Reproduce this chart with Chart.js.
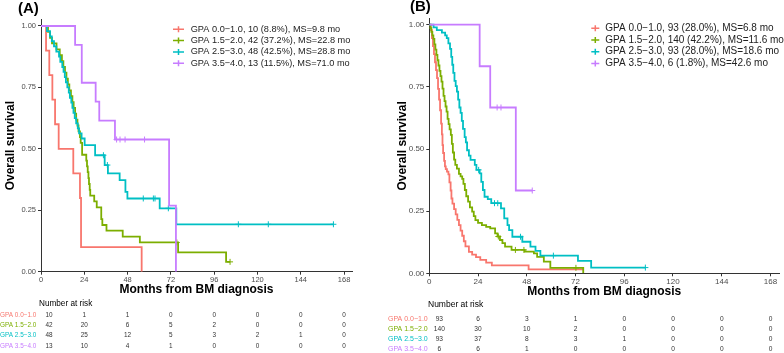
<!DOCTYPE html>
<html>
<head>
<meta charset="utf-8">
<script src="https://cdn.jsdelivr.net/npm/chart.js@4.4.1/dist/chart.umd.min.js"></script>
<style>
  html, body { margin: 0; padding: 0; background: #fff; }
  #wrap { position: relative; width: 784px; height: 353px; overflow: hidden; }
  canvas { position: absolute; top: 0; }
  #cA { left: 0; }
  #cB { left: 380px; }
</style>
</head>
<body>
<div id="wrap">
  <canvas id="cA" width="392" height="353"></canvas>
  <canvas id="cB" width="404" height="353"></canvas>
</div>
<script>
// groups and axes
const groups = ['GPA 0.0\u22121.0', 'GPA 1.5\u22122.0', 'GPA 2.5\u22123.0', 'GPA 3.5\u22124.0'];
const xTicks = [0, 24, 48, 72, 96, 120, 144, 168];
const yTicks = [0, 0.25, 0.5, 0.75, 1];

// panel A
const legendA = [
  'GPA 0.0\u22121.0, 10 (8.8%), MS=9.8 mo',
  'GPA 1.5\u22122.0, 42 (37.2%), MS=22.8 mo',
  'GPA 2.5\u22123.0, 48 (42.5%), MS=28.8 mo',
  'GPA 3.5\u22124.0, 13 (11.5%), MS=71.0 mo'
];
const riskA1 = [10, 1, 1, 0, 0, 0, 0, 0];
const riskA2 = [42, 20, 6, 5, 2, 0, 0, 0];
const riskA3 = [48, 25, 12, 5, 3, 2, 1, 0];
const riskA4 = [13, 10, 4, 1, 0, 0, 0, 0];

const timeA1 = [2.8, 4.6, 6.3, 7.8, 9.8, 17.9, 21.6, 22.2, 55.8];
const survA1 = [0.9, 0.8, 0.7, 0.6, 0.5, 0.4, 0.3, 0.1, 0];
const censA1 = [];

const timeA2 = [3.9, 5.0, 6.1, 8.6, 10.4, 11.6, 12.4, 13.3, 14.1, 14.9, 15.7, 16.6, 17.4, 18.1, 18.9, 19.5, 20.2, 20.8, 21.6, 22.0,
                22.8, 25.1, 25.5, 25.9, 26.3, 26.6, 27.0, 27.3, 29.5, 30.9, 33.4, 34.0, 36.3, 45.3, 54.8, 76.0, 102.6, 104.8];
const survA2 = [0.976, 0.952, 0.929, 0.905, 0.881, 0.857, 0.833, 0.810, 0.786, 0.762, 0.738, 0.714, 0.690, 0.667, 0.643, 0.619, 0.595, 0.571, 0.548, 0.524,
                0.476, 0.452, 0.429, 0.405, 0.381, 0.357, 0.333, 0.310, 0.286, 0.262, 0.214, 0.190, 0.167, 0.143, 0.119, 0.079, 0.040, 0.040];
const censA2 = [75.3, 104.8];

const timeA3 = [3.3, 5.0, 6.0, 7.2, 8.5, 10.0, 10.7, 11.8, 12.5, 13.2, 13.8, 14.6, 15.4, 16.0, 16.8, 17.4, 18.0, 18.7, 19.5, 20.4,
                21.1, 22.5, 24.2, 30.0, 35.3, 37.1, 43.6, 46.8, 47.9, 65.8, 75.0, 162.1];
const survA3 = [0.979, 0.958, 0.938, 0.917, 0.896, 0.875, 0.854, 0.833, 0.813, 0.792, 0.771, 0.750, 0.729, 0.708, 0.688, 0.667, 0.646, 0.625, 0.604, 0.583,
                0.563, 0.542, 0.515, 0.474, 0.434, 0.400, 0.373, 0.325, 0.298, 0.258, 0.193, 0.193];
const censA3 = [34.6, 36.8, 56.7, 62.3, 63.2, 70.6, 109.4, 126.0, 162.1];

const timeA4 = [18.9, 22.6, 30.3, 32.3, 41.0, 71.0, 74.8];
const survA4 = [0.923, 0.769, 0.692, 0.615, 0.538, 0.269, 0];
const censA4 = [41.9, 43.8, 46.6, 57.4];

// panel B
const legendB = [
  'GPA 0.0\u22121.0, 93 (28.0%), MS=6.8 mo',
  'GPA 1.5\u22122.0, 140 (42.2%), MS=11.6 mo',
  'GPA 2.5\u22123.0, 93 (28.0%), MS=18.6 mo',
  'GPA 3.5\u22124.0, 6 (1.8%), MS=42.6 mo'
];
const riskB1 = [93, 6, 3, 1, 0, 0, 0, 0];
const riskB2 = [140, 30, 10, 2, 0, 0, 0, 0];
const riskB3 = [93, 37, 8, 3, 1, 0, 0, 0];
const riskB4 = [6, 6, 1, 0, 0, 0, 0, 0];

const timeB1 = [0.8, 1.3, 1.8, 2.3, 2.8, 3.3, 3.8, 4.3, 4.8, 5.3, 5.8, 6.2, 6.5, 6.8, 7.3, 7.7, 8.1, 8.7, 9.4, 9.9,
                10.5, 10.9, 11.4, 12.2, 13.0, 13.8, 14.6, 15.4, 16.2, 17.0, 17.8, 19.5, 21.1, 23.0, 25.1, 28.0, 30.8, 48.9, 75.8];
const survB1 = [0.978, 0.946, 0.914, 0.882, 0.849, 0.817, 0.785, 0.742, 0.699, 0.656, 0.602, 0.559, 0.516, 0.484, 0.452, 0.430, 0.419, 0.409, 0.398, 0.366,
                0.333, 0.301, 0.280, 0.258, 0.237, 0.215, 0.194, 0.172, 0.151, 0.129, 0.108, 0.086, 0.075, 0.065, 0.054, 0.043, 0.032, 0.016, 0.016];
const censB1 = [];

const timeB2 = [0.5, 1.0, 1.5, 2.0, 2.5, 3.0, 3.5, 4.0, 4.5, 5.0, 5.5, 6.0, 6.5, 7.0, 7.5, 8.0, 8.5, 9.0, 9.5, 10.0,
                10.6, 11.1, 11.6, 12.2, 12.8, 13.6, 14.6, 15.4, 16.2, 16.8, 17.5, 18.2, 19.1, 20.0, 21.1, 21.9, 22.7, 24.0, 25.9, 28.0,
                30.0, 32.4, 33.6, 34.8, 36.0, 37.3, 40.5, 47.0, 51.5, 53.1, 56.4, 59.6, 75.8];
const survB2 = [0.986, 0.971, 0.957, 0.943, 0.921, 0.900, 0.879, 0.857, 0.836, 0.814, 0.793, 0.771, 0.743, 0.714, 0.693, 0.671, 0.650, 0.621, 0.600, 0.579,
                0.557, 0.521, 0.486, 0.457, 0.436, 0.421, 0.400, 0.390, 0.380, 0.360, 0.335, 0.310, 0.288, 0.265, 0.248, 0.230, 0.214, 0.203, 0.194, 0.187,
                0.181, 0.161, 0.148, 0.134, 0.121, 0.107, 0.094, 0.087, 0.080, 0.066, 0.047, 0.022, 0];
const censB2 = [34.0, 42.4, 46.6, 72.2];

const timeB3 = [2.1, 3.7, 6.2, 7.8, 8.6, 9.4, 10.2, 10.8, 11.3, 11.8, 12.4, 13.0, 13.6, 14.2, 14.8, 15.4, 16.0, 16.6, 17.4, 18.0,
                18.6, 19.5, 20.3, 22.4, 23.2, 24.8, 25.6, 26.4, 27.2, 28.8, 30.5, 35.3, 36.9, 38.5, 39.3, 40.9, 45.8, 49.8, 52.3, 54.7,
                73.2, 79.7, 106.4];
const survB3 = [0.989, 0.978, 0.968, 0.957, 0.946, 0.925, 0.903, 0.871, 0.839, 0.806, 0.774, 0.753, 0.731, 0.699, 0.667, 0.645, 0.613, 0.581, 0.548, 0.527,
                0.495, 0.473, 0.456, 0.436, 0.416, 0.402, 0.368, 0.335, 0.308, 0.298, 0.282, 0.261, 0.221, 0.194, 0.174, 0.147, 0.127, 0.107, 0.090, 0.071,
                0.050, 0.023, 0.023];
const censB3 = [24.3, 32.1, 33.7, 44.9, 61.1, 106.4];

const timeB4 = [24.8, 30.0, 42.6, 50.7];
const survB4 = [0.833, 0.667, 0.333, 0.333];
const censB4 = [33.4, 35.3, 50.7];

// look
const colors = ['#F8766D', '#7CAE00', '#00BFC4', '#C77CFF'];
const FONT = '"Liberation Sans", Arial, Helvetica, sans-serif';

// survival value at time t (right-continuous step)
function survAt(times, survs, t) {
  let s = 1;
  for (let i = 0; i < times.length; i++) {
    if (times[i] <= t) s = survs[i];
  }
  return s;
}

function makePanel(p) {
  const datasets = [];
  p.series.forEach((s, i) => {
    const pts = [{ x: 0, y: 1 }].concat(s.t.map((t, k) => ({ x: t, y: s.s[k] })));
    datasets.push({
      data: pts,
      borderColor: colors[i],
      borderWidth: p.lw,
      pointRadius: 0,
      stepped: 'before',
      fill: false,
      order: 10 - i * 2
    });
    datasets.push({
      data: s.c.map(t => ({ x: t, y: survAt(s.t, s.s, t) })),
      showLine: false,
      pointStyle: 'cross',
      pointRadius: 3,
      pointBorderWidth: 1,
      borderColor: colors[i],
      order: 9 - i * 2
    });
  });

  // tag, legend and risk table
  const extras = {
    id: 'extras',
    afterDraw(chart) {
      const ctx = chart.ctx;
      const xs = chart.scales.x;
      ctx.save();
      // tag
      ctx.fillStyle = '#000';
      ctx.font = 'bold ' + p.tag.size + 'px ' + FONT;
      ctx.textAlign = 'left';
      ctx.textBaseline = 'middle';
      ctx.fillText(p.tag.text, p.tag.x, p.tag.y);

      // legend
      ctx.font = p.leg.size + 'px ' + FONT;
      p.legend.forEach((txt, i) => {
        const y = p.leg.y0 + i * p.leg.dy;
        ctx.strokeStyle = colors[i];
        ctx.lineWidth = 1.5;
        ctx.beginPath();
        ctx.moveTo(p.leg.x0, y);
        ctx.lineTo(p.leg.x1, y);
        const cx = (p.leg.x0 + p.leg.x1) / 2;
        ctx.moveTo(cx, y - 3);
        ctx.lineTo(cx, y + 3);
        ctx.stroke();
        ctx.fillStyle = '#222';
        ctx.fillText(txt, p.leg.tx, y);
      });

      // risk table
      ctx.fillStyle = '#000';
      ctx.font = p.risk.titleSize + 'px ' + FONT;
      ctx.fillText('Number at risk', p.risk.titleX, p.risk.titleY);
      p.risk.rows.forEach((row, i) => {
        const y = p.risk.y0 + i * p.risk.dy;
        ctx.textAlign = 'left';
        ctx.fillStyle = colors[i];
        ctx.font = p.risk.labelSize + 'px ' + FONT;
        ctx.fillText(groups[i], p.risk.labelX, y);
        ctx.textAlign = 'center';
        ctx.fillStyle = '#333';
        ctx.font = p.risk.numSize + 'px ' + FONT;
        row.forEach((n, j) => {
          let x = xs.getPixelForValue(xTicks[j]);
          if (j === 0) x += p.risk.firstOff;
          ctx.fillText(String(n), x, y);
        });
      });
      ctx.restore();
    }
  };

  const tickFont = { family: FONT, size: p.tickSize };
  const titleFont = { family: FONT, size: 12, weight: 'bold' };

  return new Chart(document.getElementById(p.canvas), {
    type: 'line',
    data: { datasets },
    options: {
      responsive: false,
      animation: false,
      devicePixelRatio: 1,
      layout: { padding: p.pad },
      plugins: { legend: { display: false }, tooltip: { enabled: false } },
      scales: {
        x: {
          type: 'linear',
          min: 0,
          max: p.xMax,
          afterBuildTicks: sc => { sc.ticks = xTicks.map(v => ({ value: v })); },
          afterFit: sc => { sc.height = 30; },
          ticks: { autoSkip: false, maxRotation: 0, color: '#4d4d4d', font: tickFont, padding: 1, callback: v => String(v) },
          grid: { drawOnChartArea: false, drawTicks: true, tickLength: 3, color: '#333' },
          border: { display: true, color: '#333', width: 1 },
          title: { display: true, text: 'Months from BM diagnosis', color: '#000', font: titleFont, padding: { top: 0, bottom: p.xTitlePad } }
        },
        y: {
          type: 'linear',
          min: 0,
          max: p.yMax,
          afterBuildTicks: sc => { sc.ticks = yTicks.map(v => ({ value: v })); },
          afterFit: sc => { sc.width = p.yWidth; },
          ticks: { color: '#4d4d4d', font: tickFont, padding: 2, callback: v => Number(v).toFixed(2) },
          grid: { drawOnChartArea: false, drawTicks: true, tickLength: 3, color: '#333' },
          border: { display: true, color: '#333', width: 1 },
          title: { display: true, text: 'Overall survival', color: '#000', font: titleFont, padding: { top: 3, bottom: 0 } }
        }
      }
    },
    plugins: [extras]
  });
}

makePanel({
  canvas: 'cA',
  xMax: 172.4,
  yMax: 1.026,
  yWidth: 41,
  pad: { left: 0, right: 40, top: 19.6, bottom: 51.3 },
  tickSize: 7.5,
  xTitlePad: 5,
  lw: 1.8,
  series: [
    { t: timeA1, s: survA1, c: censA1 },
    { t: timeA2, s: survA2, c: censA2 },
    { t: timeA3, s: survA3, c: censA3 },
    { t: timeA4, s: survA4, c: censA4 }
  ],
  legend: legendA,
  tag: { text: '(A)', x: 18, y: 9, size: 15 },
  leg: { x0: 173, x1: 184, tx: 190.7, y0: 29.3, dy: 11.3, size: 9.2 },
  risk: {
    rows: [riskA1, riskA2, riskA3, riskA4],
    titleX: 39, titleY: 303.3, titleSize: 8.2,
    labelX: 0, labelSize: 6.4, numSize: 6.4,
    y0: 315, dy: 10.3, firstOff: 8
  }
});

makePanel({
  canvas: 'cB',
  xMax: 172.2,
  yMax: 1.025,
  yWidth: 37.3,
  pad: { left: 12, right: 0.3, top: 18.5, bottom: 49.7 },
  tickSize: 8,
  xTitlePad: 4,
  lw: 1.8,
  series: [
    { t: timeB1, s: survB1, c: censB1 },
    { t: timeB2, s: survB2, c: censB2 },
    { t: timeB3, s: survB3, c: censB3 },
    { t: timeB4, s: survB4, c: censB4 }
  ],
  legend: legendB,
  tag: { text: '(B)', x: 30, y: 7, size: 15 },
  leg: { x0: 211.3, x1: 219.3, tx: 225.3, y0: 28.3, dy: 11.7, size: 10 },
  risk: {
    rows: [riskB1, riskB2, riskB3, riskB4],
    titleX: 48, titleY: 305, titleSize: 8.5,
    labelX: 8, labelSize: 7, numSize: 6.6,
    y0: 319.3, dy: 10, firstOff: 10
  }
});
</script>
</body>
</html>
